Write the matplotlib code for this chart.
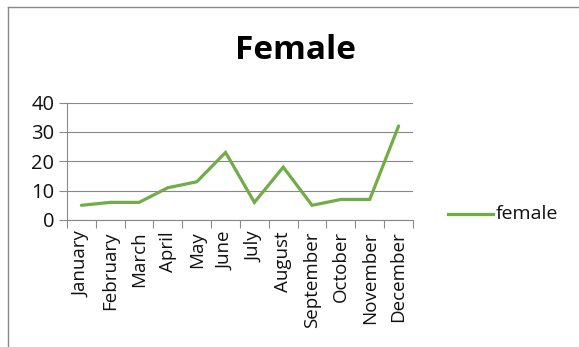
import matplotlib
matplotlib.use('Agg')
import matplotlib.pyplot as plt
from matplotlib.lines import Line2D

months = ['January', 'February', 'March', 'April', 'May', 'June',
          'July', 'August', 'September', 'October', 'November', 'December']
female = [5, 6, 6, 11, 13, 23, 6, 18, 5, 7, 7, 32]
y_ticks = [0, 10, 20, 30, 40]

plt.rcParams['font.family'] = ['Open Sans', 'DejaVu Sans']

fig = plt.figure(figsize=(5.79, 3.47), dpi=100)
ax = fig.add_axes([0.1157, 0.366, 0.5976, 0.3386])

x = list(range(len(months)))
ax.plot(x, female, color='#70AD47', linewidth=2.3, solid_capstyle='round',
        solid_joinstyle='miter')

ax.set_xlim(-0.5, len(months) - 0.5)
ax.set_ylim(0, 40)
ax.set_yticks(y_ticks)
ax.set_yticklabels([str(v) for v in y_ticks], fontsize=14.5, color='#111111')
ax.tick_params(axis='y', length=6, width=0.8, color='#888888', pad=3)

# category labels centred, tick marks on category boundaries
ax.set_xticks(x)
ax.set_xticklabels(months, rotation=90, fontsize=13.5, color='#111111')
ax.set_xticks([i - 0.5 for i in range(len(months) + 1)], minor=True)
ax.tick_params(axis='x', which='major', length=0, pad=8)
ax.tick_params(axis='x', which='minor', length=6, width=0.8, color='#888888')

ax.yaxis.grid(True, color='#888888', linewidth=0.8)
ax.set_axisbelow(True)
for side in ['top', 'right']:
    ax.spines[side].set_visible(False)
for side in ['left', 'bottom']:
    ax.spines[side].set_color('#888888')
    ax.spines[side].set_linewidth(0.8)

fig.text(0.51, 0.855, 'Female', ha='center', va='center',
         fontsize=24, fontweight='bold', color='#000000')

# legend entry
fig.add_artist(Line2D([448 / 579, 493 / 579], [1 - 214 / 347, 1 - 214 / 347],
                      color='#70AD47', linewidth=2.3))
fig.text(496 / 579, 1 - 214 / 347, 'female', ha='left', va='center',
         fontsize=14, color='#111111')

# chart frame (clipped on right and bottom)
fig.add_artist(Line2D([8 / 579, 1.0], [1 - 7 / 347, 1 - 7 / 347],
                      color='#888888', linewidth=1.0))
fig.add_artist(Line2D([8 / 579, 8 / 579], [0.0, 1 - 7 / 347],
                      color='#888888', linewidth=1.0))

fig.savefig('out.png', dpi=100)
